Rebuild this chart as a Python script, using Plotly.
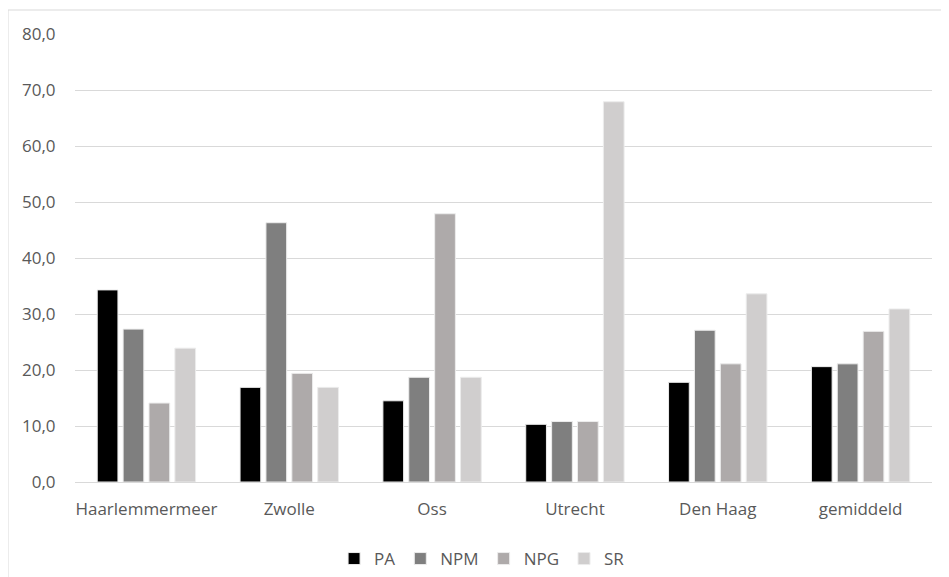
import plotly.graph_objects as go

categories = ["Haarlemmermeer", "Zwolle", "Oss", "Utrecht", "Den Haag", "gemiddeld"]
PA = [34.3, 16.9, 14.5, 10.3, 17.8, 20.6]
NPM = [27.3, 46.3, 18.7, 10.8, 27.1, 21.1]
NPG = [14.1, 19.4, 47.9, 10.8, 21.1, 26.9]
SR = [23.9, 16.9, 18.7, 67.9, 33.6, 30.9]

series = [("PA", PA, "#000000"), ("NPM", NPM, "#7f7f7f"),
          ("NPG", NPG, "#aeaaaa"), ("SR", SR, "#d0cece")]

fig = go.Figure()
for name, vals, col in series:
    fig.add_trace(go.Bar(x=categories, y=vals, name=name,
                         marker=dict(color=col, line=dict(color="#ececec", width=1))))

L, R, T, B = 67, 924, 26, 474
W, H = 949, 577
pw, ph = R - L, B - T

font_family = "Open Sans, Liberation Sans, sans-serif"
fig.update_layout(
    width=W, height=H,
    margin=dict(l=L, r=W - R, t=T, b=H - B, autoexpand=False),
    paper_bgcolor="white", plot_bgcolor="white",
    barmode="group", bargap=0.275, bargroupgap=0.2,
    separators=",.",
    font=dict(family=font_family, size=17, color="#595959"),
    showlegend=True,
    legend=dict(orientation="h", x=0.475, xanchor="center",
                y=(B - 551) / ph, yanchor="middle",
                font=dict(size=17, color="#595959"), traceorder="normal"),
    yaxis=dict(range=[0, 80], dtick=10, tickformat=".1f", showgrid=True,
               gridcolor="#d9d9d9", gridwidth=1, zeroline=False, showline=False,
               ticks="outside", ticklen=15, tickcolor="rgba(0,0,0,0)",
               fixedrange=True, automargin=False),
    xaxis=dict(showline=True, linecolor="#d9d9d9", linewidth=1, ticks="outside",
               ticklen=12, tickcolor="rgba(0,0,0,0)", fixedrange=True,
               automargin=False),
    shapes=[dict(type="rect", xref="paper", yref="paper",
                 x0=(0 - L) / pw, x1=1.2, y0=-0.4, y1=(B - 2) / ph,
                 line=dict(color="#d9d9d9", width=1), fillcolor="rgba(0,0,0,0)",
                 layer="below")],
)

fig.write_html("out.html")
